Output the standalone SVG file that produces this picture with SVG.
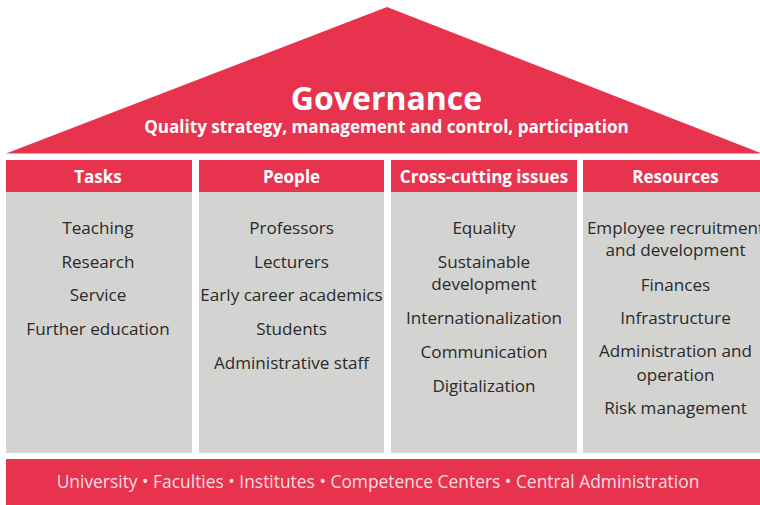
<svg xmlns="http://www.w3.org/2000/svg" width="760" height="505" viewBox="0 0 760 505">
  <style>
    .red { fill: #E8334F; }
    .body { fill: #D3D3D1; }
    .hdr { font-family: "Open Sans", "Noto Sans", sans-serif; font-weight: bold; font-size: 17px; fill: #FFFFFF; text-anchor: middle; }
    .item { font-family: "Open Sans", "Noto Sans", sans-serif; font-size: 17.1px; fill: #2A2A2A; text-anchor: middle; }
    .title { font-family: "Open Sans", "Noto Sans", sans-serif; font-weight: bold; font-size: 32px; fill: #FFFFFF; text-anchor: middle; }
    .sub { font-family: "Open Sans", "Noto Sans", sans-serif; font-weight: bold; font-size: 17.1px; fill: #FFFFFF; text-anchor: middle; }
    .base { font-family: "Open Sans", "Noto Sans", sans-serif; font-size: 17.4px; fill: #FBDDE2; text-anchor: middle; }
  </style>
  <rect width="760" height="505" fill="#FFFFFF"/>

  <!-- Roof: governance -->
  <g id="governance">
    <polygon class="red" points="6,153.5 387,7 762,153.5"/>
    <text class="title" x="386.5" y="110">Governance</text>
    <text class="sub" x="386.5" y="133">Quality strategy, management and control, participation</text>
  </g>

  <!-- Pillar: Tasks -->
  <g id="tasks">
    <rect class="red" x="6" y="160" width="186" height="32"/>
    <rect class="body" x="6" y="192" width="186" height="261"/>
    <text class="hdr" x="98" y="183">Tasks</text>
    <text class="item" x="98" y="234">Teaching</text>
    <text class="item" x="98" y="268">Research</text>
    <text class="item" x="98" y="301">Service</text>
    <text class="item" x="98" y="335">Further education</text>
  </g>

  <!-- Pillar: People -->
  <g id="people">
    <rect class="red" x="199" y="160" width="185" height="32"/>
    <rect class="body" x="199" y="192" width="185" height="261"/>
    <text class="hdr" x="291.5" y="183">People</text>
    <text class="item" x="291.5" y="234">Professors</text>
    <text class="item" x="291.5" y="268">Lecturers</text>
    <text class="item" x="291.5" y="301">Early career academics</text>
    <text class="item" x="291.5" y="335">Students</text>
    <text class="item" x="291.5" y="369">Administrative staff</text>
  </g>

  <!-- Pillar: Cross-cutting issues -->
  <g id="cross-cutting">
    <rect class="red" x="391" y="160" width="186" height="32"/>
    <rect class="body" x="391" y="192" width="186" height="261"/>
    <text class="hdr" x="484" y="183">Cross-cutting issues</text>
    <text class="item" x="484" y="234">Equality</text>
    <text class="item" x="484" y="268">Sustainable</text>
    <text class="item" x="484" y="290">development</text>
    <text class="item" x="484" y="324">Internationalization</text>
    <text class="item" x="484" y="358">Communication</text>
    <text class="item" x="484" y="392">Digitalization</text>
  </g>

  <!-- Pillar: Resources -->
  <g id="resources">
    <rect class="red" x="583" y="160" width="186" height="32"/>
    <rect class="body" x="583" y="192" width="186" height="261"/>
    <text class="hdr" x="675.5" y="183">Resources</text>
    <text class="item" x="675.5" y="234">Employee recruitment</text>
    <text class="item" x="675.5" y="256">and development</text>
    <text class="item" x="675.5" y="291">Finances</text>
    <text class="item" x="675.5" y="324">Infrastructure</text>
    <text class="item" x="675.5" y="357">Administration and</text>
    <text class="item" x="675.5" y="381">operation</text>
    <text class="item" x="675.5" y="414">Risk management</text>
  </g>

  <!-- Foundation -->
  <g id="foundation">
    <rect class="red" x="6" y="459" width="760" height="46"/>
    <text class="base" x="378" y="488">University • Faculties • Institutes • Competence Centers • Central Administration</text>
  </g>

  <!-- No connectors in this layout -->
  <g id="connectors"/>
</svg>
